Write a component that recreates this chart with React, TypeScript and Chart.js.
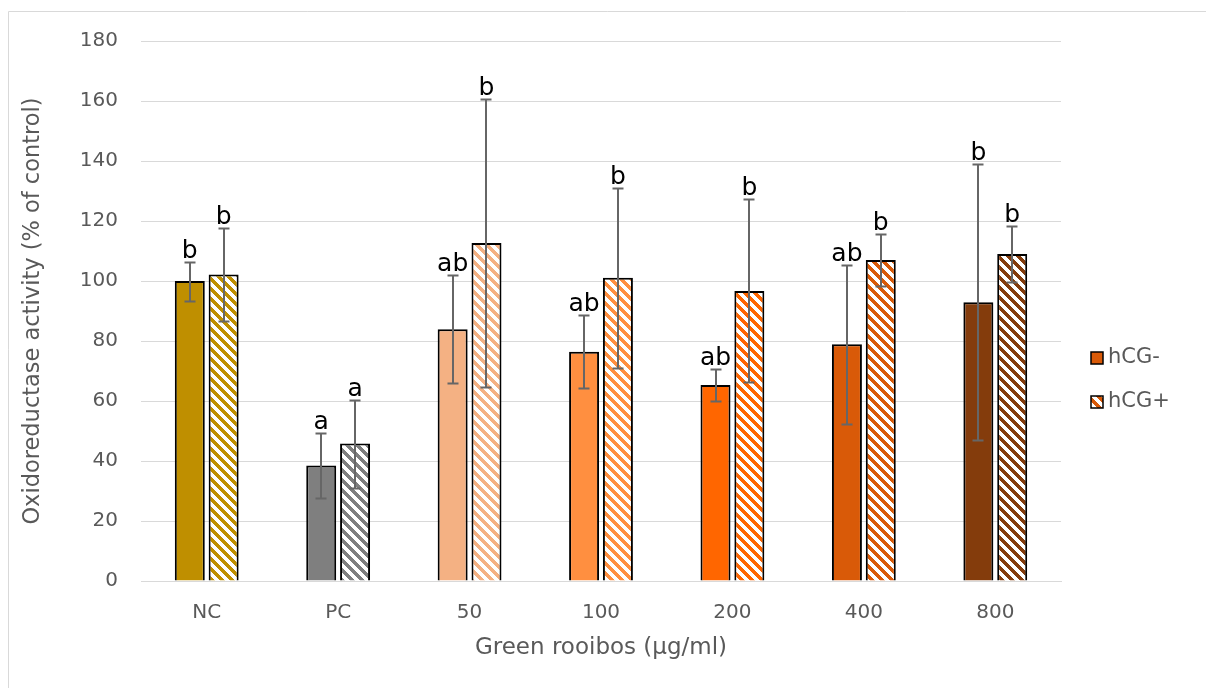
import React, { useEffect, useRef } from "react";
import { Chart, registerables } from "chart.js";

Chart.register(...registerables);

const categories = ["NC", "PC", "50", "100", "200", "400", "800"];
const hcgMinus = [100, 38.5, 83.9, 76.4, 65.3, 78.9, 92.9];
const hcgMinusErr = [6.5, 10.7, 18, 12.2, 5.3, 26.5, 46];
const hcgPlus = [102.2, 45.8, 112.7, 101.1, 96.7, 107, 109];
const hcgPlusErr = [15.6, 14.7, 48, 30, 30.5, 8.6, 9.3];
const lettersMinus = ["b", "a", "ab", "ab", "ab", "ab", "b"];
const lettersPlus = ["b", "a", "b", "b", "b", "b", "b"];
const barColors = ["#BF8F00", "#7F7F7F", "#F4B183", "#FF8F40", "#FF6600", "#D95A08", "#843C0C"];
const yTicks = [0, 20, 40, 60, 80, 100, 120, 140, 160, 180];
const seriesNames = ["hCG-", "hCG+"];
const legendColor = "#D95A08";

const FONT = "'DejaVu Sans', sans-serif";

function makePattern(ctx: CanvasRenderingContext2D, color: string) {
  const n = 10;
  const c = document.createElement("canvas");
  c.width = n;
  c.height = n;
  const g = c.getContext("2d")!;
  g.fillStyle = "#ffffff";
  g.fillRect(0, 0, n, n);
  g.fillStyle = color;
  for (let y = 0; y < n; y++) {
    for (let x = 0; x < n; x++) {
      if ((((x - y) % n) + n) % n < 5) g.fillRect(x, y, 1, 1);
    }
  }
  return ctx.createPattern(c, "repeat")!;
}

const errs = [hcgMinusErr, hcgPlusErr];
const letters = [lettersMinus, lettersPlus];

const overlayPlugin = {
  id: "overlay",
  beforeDraw(chart: any) {
    const ctx = chart.ctx;
    ctx.save();
    ctx.strokeStyle = "#d9d9d9";
    ctx.lineWidth = 1;
    ctx.beginPath();
    ctx.moveTo(8.5, 688);
    ctx.lineTo(8.5, 11.5);
    ctx.lineTo(1206, 11.5);
    ctx.stroke();
    ctx.restore();
  },
  afterDatasetsDraw(chart: any) {
    const ctx = chart.ctx;
    const y = chart.scales.y;
    ctx.save();
    chart.data.datasets.forEach((ds: any, di: number) => {
      const meta = chart.getDatasetMeta(di);
      meta.data.forEach((el: any, i: number) => {
        const v = ds.data[i];
        const e = errs[di][i];
        const yt = Math.round(y.getPixelForValue(v + e)) + 0.5;
        const yb = Math.round(y.getPixelForValue(v - e)) + 0.5;
        const x = Math.round(el.x);
        ctx.strokeStyle = "#666666";
        ctx.lineWidth = 2;
        ctx.beginPath();
        ctx.moveTo(x, yt);
        ctx.lineTo(x, yb);
        ctx.moveTo(x - 5.5, yt);
        ctx.lineTo(x + 5.5, yt);
        ctx.moveTo(x - 5.5, yb);
        ctx.lineTo(x + 5.5, yb);
        ctx.stroke();
        ctx.fillStyle = "#000000";
        ctx.font = `25px ${FONT}`;
        ctx.textAlign = "center";
        ctx.textBaseline = "alphabetic";
        ctx.fillText(letters[di][i], el.x, yt - 5);
      });
    });
    // legend
    const lx = 1091;
    const items = [
      { y: 358, fill: legendColor },
      { y: 402, fill: makePattern(ctx, legendColor) },
    ];
    items.forEach((it, k) => {
      ctx.fillStyle = it.fill;
      ctx.fillRect(lx, it.y - 6, 12, 12);
      ctx.strokeStyle = "#000";
      ctx.lineWidth = 1.5;
      ctx.strokeRect(lx, it.y - 6, 12, 12);
      ctx.fillStyle = "#595959";
      ctx.font = `21px ${FONT}`;
      ctx.textAlign = "left";
      ctx.textBaseline = "middle";
      ctx.fillText(seriesNames[k], lx + 17, it.y);
    });
    ctx.restore();
  },
};

export default function App() {
  const ref = useRef<HTMLCanvasElement>(null);
  useEffect(() => {
    const canvas = ref.current!;
    const ctx = canvas.getContext("2d")!;
    const patterns = barColors.map((c) => makePattern(ctx, c));
    const chart = new Chart(canvas, {
      type: "bar",
      data: {
        labels: categories,
        datasets: [
          {
            label: seriesNames[0],
            data: hcgMinus,
            backgroundColor: barColors,
            borderColor: "#000000",
            borderWidth: 2,
            categoryPercentage: 0.515,
            barPercentage: 0.886,
          },
          {
            label: seriesNames[1],
            data: hcgPlus,
            backgroundColor: patterns as any,
            borderColor: "#000000",
            borderWidth: 2,
            categoryPercentage: 0.515,
            barPercentage: 0.886,
          },
        ],
      },
      options: {
        responsive: false,
        animation: false,
        layout: { padding: { top: 41, right: 145, bottom: 0, left: 0 } },
        plugins: { legend: { display: false }, tooltip: { enabled: false } },
        scales: {
          x: {
            grid: { display: false, drawTicks: false },
            border: { display: true, color: "#d9d9d9" },
            ticks: { color: "#595959", font: { family: FONT, size: 20 }, padding: 20 },
            title: {
              display: true,
              text: "Green rooibos (µg/ml)",
              color: "#595959",
              font: { family: FONT, size: 23 },
              padding: { top: 0, bottom: 26 },
            },
            afterFit(s: any) {
              s.height = 107;
            },
          },
          y: {
            min: 0,
            max: 180,
            afterBuildTicks(s: any) {
              s.ticks = yTicks.map((v) => ({ value: v }));
            },
            grid: { color: "#d9d9d9", drawTicks: false },
            border: { display: false },
            ticks: { color: "#595959", font: { family: FONT, size: 20 }, padding: 23 },
            title: {
              display: true,
              text: "Oxidoreductase activity (% of control)",
              color: "#595959",
              font: { family: FONT, size: 22.5 },
              padding: { top: 19.5, bottom: 0 },
            },
            afterFit(s: any) {
              s.width = 141;
            },
          },
        },
      },
      plugins: [overlayPlugin],
    });
    return () => chart.destroy();
  }, []);
  return (
    <div style={{ position: "absolute", left: 0, top: 0, width: 1206, height: 688, background: "#fff" }}>
      <canvas ref={ref} width={1206} height={688} />
    </div>
  );
}
